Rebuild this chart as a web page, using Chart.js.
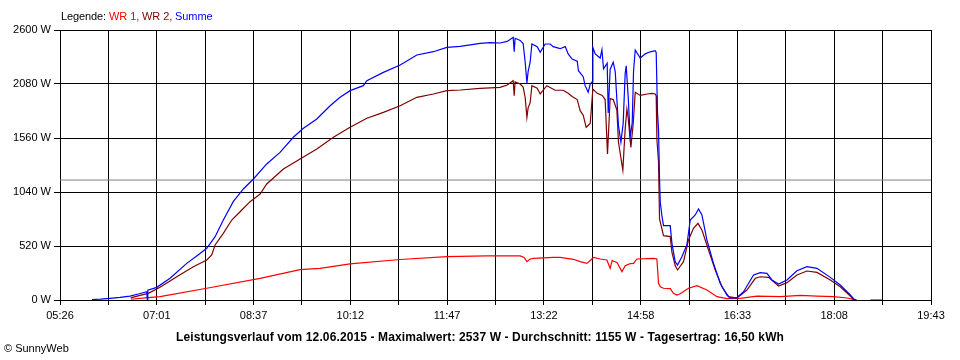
<!DOCTYPE html>
<html>
<head>
<meta charset="utf-8">
<script src="https://cdn.jsdelivr.net/npm/chart.js@4/dist/chart.umd.min.js"></script>
<style>
  html, body { margin: 0; padding: 0; background: #fff; }
  #wrap { position: relative; width: 960px; height: 360px; background: #fff; font-family: "Liberation Sans", Arial, sans-serif; }
  #c { position: absolute; left: 0; top: 0; }
  .txt { position: absolute; white-space: nowrap; color: #000; }
  #legend { left: 61px; top: 10px; font-size: 11px; letter-spacing: -0.1px; }
  #title { left: 0; width: 960px; text-align: center; top: 330px; font-size: 12px; font-weight: bold; letter-spacing: 0.12px; }
  #copy { left: 4px; top: 342px; font-size: 11px; }
</style>
</head>
<body>
<div id="wrap">
  <canvas id="c" width="960" height="360"></canvas>
  <div class="txt" id="legend">Legende: <span style="color:#ff0000">WR 1,</span> <span style="color:#800000">WR 2,</span> <span style="color:#0000ff">Summe</span></div>
  <div class="txt" id="title">Leistungsverlauf vom 12.06.2015 - Maximalwert: 2537 W - Durchschnitt: 1155 W - Tagesertrag: 16,50 kWh</div>
  <div class="txt" id="copy">© SunnyWeb</div>
</div>
<script>
// Axis ticks (time in minutes since midnight for the x axis)
const xTickLabels = ["05:26", "07:01", "08:37", "10:12", "11:47", "13:22", "14:58", "16:33", "18:08", "19:43"];
const xStart = 326;   // 05:26
const xEnd = 1183;    // 19:43
const yTicks = [0, 520, 1040, 1560, 2080, 2600];
const avgW = 1155;    // Durchschnitt

// Summe (blue): time [min], power [W]
const sumT = [357.5,366,375.2,385,394.9,404,411.3,411.9,412.4,421.2,434.3,450.7,460.5,470.4,478.6,486.7,496.6,506.4,516.3,529.4,542.5,555.6,565.5,578.7,591.8,601.6,611.4,624.5,627.9,644.2,660.7,677.1,693.4,706.6,719.7,739.4,749.2,759.1,766.0,771.9,772.9,773.8,778.8,781.7,783.7,785.4,786.6,788.6,790.3,795.5,798.5,803.4,808.3,811.2,818.1,823.1,826.0,829.9,834.9,836.1,840.8,842.7,845.7,847.7,849.6,850.3,852.6,857.5,859.2,860.8,864.4,865.4,867.3,870.3,872.3,873.9,875.5,877.9,880.1,882.1,883.1,885.1,887.0,889.0,890.3,892.0,896.9,901.8,906.7,911.6,912.6,913.9,914.9,915.9,916.6,918.2,919.8,926.4,928.1,931.3,933.6,937.9,942.8,946.1,951.0,954.3,957.6,962.5,969.0,975.6,982.2,985.5,992.0,998.6,1008.4,1015.0,1021.6,1026.5,1033.0,1041.3,1051.1,1060.9,1070.8,1083.9,1093.7,1103.6,1107.5,1109.5,1116,1123.3,1135.1];
const sumW = [5,8,16,25,38,60,80,0,95,122,209,353,424,498,610,770,950,1069,1165,1310,1422,1567,1653,1743,1871,1952,2016,2064,2112,2192,2263,2359,2391,2433,2443,2472,2478,2475,2490,2530,2391,2520,2500,2470,2290,2090,2200,2290,2465,2440,2385,2465,2465,2440,2420,2440,2369,2320,2300,2208,2150,2064,2000,2080,2100,2433,2370,2330,2410,2225,2280,1800,2220,2290,2200,1936,1679,1520,1700,2183,2256,1950,1573,1700,2200,2407,2330,2370,2390,2400,2385,1807,1647,1165,944,812,716,716,546,369,337,417,530,770,819,876,819,578,353,161,48,19,22,80,241,263,257,193,154,193,282,321,305,218,144,48,6,0,null,0,0];

// WR 2 (dark red)
const wr2T = [395.5,404.7,412.9,424.4,440.9,457.2,470.4,475.3,478.6,486.7,495.0,503.2,513.0,522.9,529.4,545.8,562.2,578.7,595.0,611.4,627.9,644.2,660.7,677.1,693.4,706.6,719.7,739.4,759.1,766.0,771.9,772.9,773.8,778.8,781.7,783.7,785.4,786.6,788.6,790.3,795.5,798.5,805.0,813.2,821.1,826.0,829.9,834.9,837.8,840.8,843.7,847.7,850.3,854.6,859.5,862.4,864.7,867.3,870.3,873.9,875.5,879.8,882.1,883.8,885.1,887.7,890.0,892.0,896.9,903.8,908.7,911.6,912.6,913.3,914.9,915.9,919.8,926.4,928.1,931.3,933.6,939.5,944.4,949.3,953.7,957.6,964.1,970.7,977.3,983.8,992.0,1001.9,1010.1,1015.0,1023.2,1033.0,1041.3,1051.1,1060.9,1070.8,1083.9,1093.7,1103.6,1106.8,1109.5];
const wr2W = [20,45,64,122,224,321,385,433,530,642,770,850,947,1020,1117,1261,1358,1454,1567,1663,1750,1807,1871,1952,1984,2016,2022,2038,2048,2070,2112,1968,2100,2080,2050,1950,1759,1850,1900,2064,2040,1984,2064,2020,2020,1990,1960,1930,1823,1780,1663,1700,2032,1990,1970,1930,1406,1940,1930,1830,1519,1250,1650,1839,1750,1470,1700,2000,1970,1984,1990,1984,1968,1550,1329,780,619,610,459,331,289,369,578,690,738,674,482,289,128,32,19,96,209,224,218,135,167,241,279,266,193,128,38,6,0];

// WR 1 (red)
const wr1T = [395.9,409.7,424.4,470.4,522.9,562.2,581.9,611.4,660.7,706.6,746.0,778.8,782.7,785.4,788.6,791.9,811.5,818.1,831.2,837.8,844.4,847.7,850.9,857.5,864.1,867.3,869.3,874.2,878.9,882.1,887.0,890.3,893.6,910.0,913.3,914.9,916.6,919.8,926.4,929.6,933.0,936.2,944.4,952.7,962.5,972.4,982.2,995.3,1011.7,1034.7,1054.4,1070.8,1087.1,1100.3,1106.8,1109.5];
const wr1W = [7,20,32,113,209,292,305,347,390,417,424,424,410,369,395,401,411,411,392,369,353,380,411,395,385,305,380,360,273,330,350,353,395,401,395,161,128,113,110,64,48,60,113,138,96,32,13,16,38,32,45,38,32,19,6,0];

function pts(t, w) { return t.map((x, i) => ({ x: x, y: w[i] })); }

const xTickPos = [];
for (let k = 0; k <= 18; k++) xTickPos.push(xStart + k * (xEnd - xStart) / 18);

const FONT = { family: '"Liberation Sans", Arial, sans-serif', size: 11 };

new Chart(document.getElementById('c'), {
  type: 'line',
  data: {
    datasets: [
      { label: 'Summe', data: pts(sumT, sumW), borderColor: '#0000ff', borderWidth: 1.2, pointRadius: 0, tension: 0, spanGaps: false, order: 0 },
      { label: 'WR 2', data: pts(wr2T, wr2W), borderColor: '#800000', borderWidth: 1.2, pointRadius: 0, tension: 0, order: 1 },
      { label: 'WR 1', data: pts(wr1T, wr1W), borderColor: '#ff0000', borderWidth: 1.2, pointRadius: 0, tension: 0, order: 2 },
      { label: 'Durchschnitt', data: [{ x: xStart, y: avgW }, { x: xEnd, y: avgW }], borderColor: '#808080', borderWidth: 1, pointRadius: 0, order: 3 }
    ]
  },
  options: {
    responsive: false,
    animation: false,
    devicePixelRatio: 1,
    layout: { padding: { top: 30, right: 29, bottom: 0, left: 0 } },
    plugins: { legend: { display: false }, tooltip: { enabled: false }, title: { display: false } },
    scales: {
      x: {
        type: 'linear',
        min: xStart,
        max: xEnd,
        afterBuildTicks: (scale) => { scale.ticks = xTickPos.map(v => ({ value: v })); },
        afterFit: (scale) => { scale.height = 60; },
        ticks: {
          autoSkip: false, maxRotation: 0, minRotation: 0, color: '#000', font: FONT, padding: 4,
          callback: (v, i) => (i % 2 === 0 ? xTickLabels[i / 2] : '')
        },
        grid: { color: '#000', lineWidth: 1, tickLength: 5, tickColor: '#000' },
        border: { color: '#000', width: 1 }
      },
      y: {
        min: 0,
        max: 2600,
        afterBuildTicks: (scale) => { scale.ticks = yTicks.map(v => ({ value: v })); },
        afterFit: (scale) => { scale.width = 60; },
        ticks: { color: '#000', font: FONT, padding: 3, callback: (v) => v + ' W' },
        grid: { color: '#000', lineWidth: 1, tickLength: 6, tickColor: '#000' },
        border: { color: '#000', width: 1 }
      }
    }
  }
});
</script>
</body>
</html>
